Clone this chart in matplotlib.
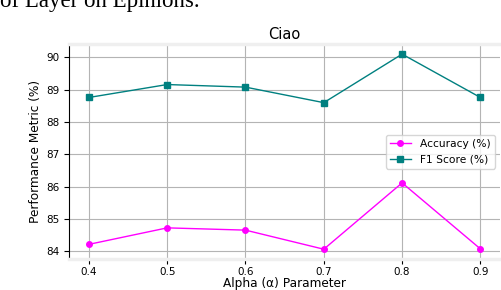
import matplotlib.pyplot as plt

# 数据
alpha = [0.4, 0.5, 0.6, 0.7, 0.8, 0.9]
accuracy = [84.22, 84.73, 84.66, 84.07, 86.12, 84.08]
f1_score = [88.76, 89.16, 89.08, 88.60, 90.10, 88.76]

fig = plt.figure(figsize=(5.02, 2.9), dpi=100)
ax = fig.add_axes([0.138, 0.107, 0.858, 0.740])

# 上方被裁掉的论文标题
fig.text(0.0, 0.975, 'of Layer on Epinions.', family='Liberation Serif', fontsize=16.5, va='baseline')

ax.plot(alpha, accuracy, color='magenta', marker='o', markersize=4, linewidth=1, label='Accuracy (%)')
ax.plot(alpha, f1_score, color='teal', marker='s', markersize=4, linewidth=1, label='F1 Score (%)')

ax.set_title('Ciao', fontsize=10.5, pad=4)
ax.set_xlabel('Alpha (α) Parameter', fontsize=8.7, labelpad=0)
ax.set_ylabel('Performance Metric (%)', fontsize=8.7, labelpad=3)
ax.tick_params(labelsize=7.5)
ax.tick_params(axis='x', pad=2.5)
ax.grid(True, color='#b4b4b4', linewidth=0.8)

# 边框
for s in ['top', 'bottom']:
    ax.spines[s].set_color('#efefef')
    ax.spines[s].set_linewidth(2.5)
ax.spines['right'].set_visible(False)
ax.spines['left'].set_color('black')

ax.legend(loc='center right', fontsize=7.7)

plt.savefig('out.png', dpi=100)
